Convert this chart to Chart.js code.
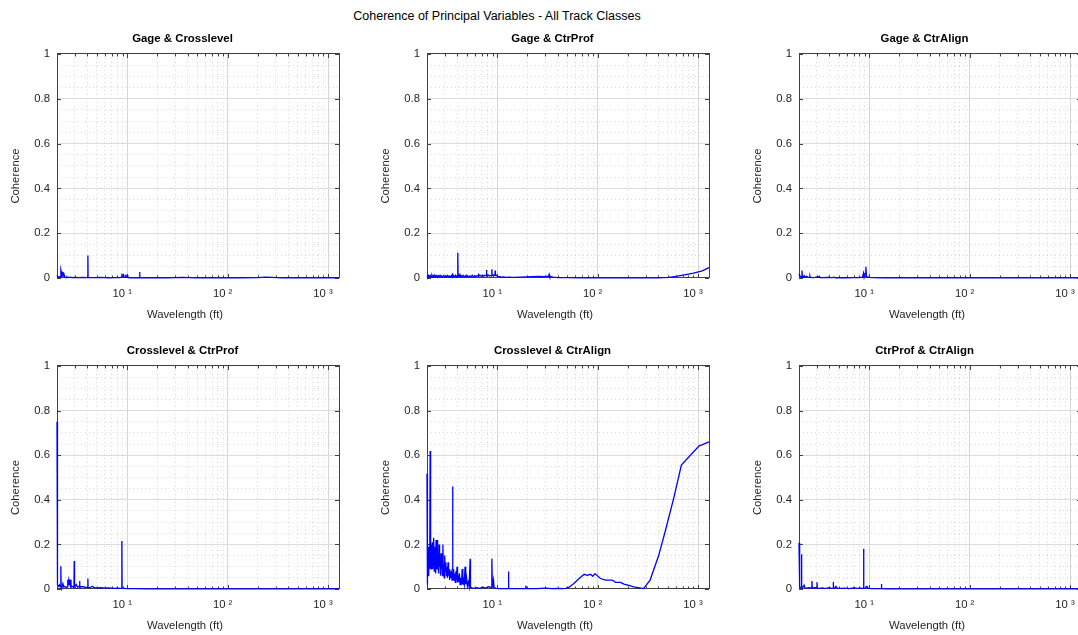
<!DOCTYPE html>
<html>
<head>
<meta charset="utf-8">
<title>Coherence of Principal Variables - All Track Classes</title>
<script src="https://cdn.jsdelivr.net/npm/chart.js@4.4.1/dist/chart.umd.min.js"></script>
<style>
  html,body{margin:0;padding:0;background:#fff;}
  body{width:1078px;height:635px;overflow:hidden;position:relative;font-family:"Liberation Sans",Arial,sans-serif;}
  #suptitle{position:absolute;left:0;top:8px;width:994px;text-align:center;font-size:12.5px;line-height:16px;color:#000;}
  canvas{position:absolute;}
</style>
</head>
<body>
<div id="suptitle">Coherence of Principal Variables - All Track Classes</div>
<canvas id="p1" width="365" height="302" style="left:0px;top:24px"></canvas>
<canvas id="p2" width="365" height="302" style="left:370px;top:24px"></canvas>
<canvas id="p3" width="365" height="302" style="left:742px;top:24px"></canvas>
<canvas id="p4" width="365" height="301" style="left:0px;top:336px"></canvas>
<canvas id="p5" width="365" height="301" style="left:370px;top:336px"></canvas>
<canvas id="p6" width="365" height="301" style="left:742px;top:336px"></canvas>
<script>
/* ── axes ── */
const X_MIN=2, X_MAX=1285;
const X_MAJOR=[10,100,1000];
const X_LABELS=['10 \u00b9','10 \u00b2','10 \u00b3'];
const X_MINOR=[3,4,5,6,7,8,9,20,30,40,50,60,70,80,90,200,300,400,500,600,700,800,900];
const Y_MAJOR=[0,0.2,0.4,0.6,0.8,1];
const Y_MINOR=[0.05,0.1,0.15,0.25,0.3,0.35,0.45,0.5,0.55,0.65,0.7,0.75,0.85,0.9,0.95];
const X_TITLE='Wavelength (ft)';
const Y_TITLE='Coherence';
const PANEL_TITLES=['Gage & Crosslevel','Gage & CtrProf','Gage & CtrAlign',
  'Crosslevel & CtrProf','Crosslevel & CtrAlign','CtrProf & CtrAlign'];

/* ── Gage & Crosslevel ── */
const wlGageXl=[2.0,2.05,2.1,2.15,2.18,2.19,2.2,2.24,2.27,2.3,
  2.32,2.34,2.4,2.46,2.51,2.55,2.62,2.71,2.8,3.0,
  3.3,3.6,3.9,4.04,4.06,4.08,4.3,4.8,5.5,6.5,
  7.5,8.4,8.8,8.85,8.9,9.1,9.19,9.3,9.6,9.7,
  9.8,10.0,10.08,10.2,11,12.5,13.2,13.3,13.4,15,
  18,25,35,50,80,130,200,240,280,350,
  500,800,1285];
const cohGageXl=[0.012,0.004,0.006,0.003,0.005,0.036,0.030,0.004,0.025,0.024,
  0.006,0.022,0.003,0.002,0.005,0.002,0.003,0.004,0.002,0.003,
  0.002,0.003,0.002,0.003,0.100,0.003,0.002,0.002,0.003,0.001,
  0.002,0.002,0.004,0.020,0.004,0.006,0.018,0.004,0.005,0.015,
  0.004,0.004,0.014,0.002,0.001,0.001,0.002,0.027,0.002,0.001,
  0.002,0.001,0.003,0.001,0.001,0.001,0.002,0.004,0.003,0.001,
  0.001,0.001,0.001];

/* ── Gage & CtrProf ── */
const wlGageProf=[2.0,2.04,2.08,2.12,2.16,2.2,2.24,2.28,2.32,2.36,
  2.4,2.45,2.5,2.55,2.6,2.65,2.7,2.76,2.82,2.88,
  2.94,3.0,3.07,3.14,3.21,3.28,3.35,3.43,3.51,3.57,
  3.59,3.61,3.68,3.76,3.84,3.92,4.0,4.04,4.06,4.08,
  4.14,4.22,4.25,4.28,4.38,4.48,4.58,4.7,4.86,4.88,
  4.9,5.05,5.2,5.35,5.5,5.65,5.8,5.95,6.1,6.3,
  6.5,6.52,6.55,6.75,6.95,7.15,7.35,7.55,7.8,7.83,
  7.86,8.1,8.35,8.8,8.85,8.9,9.1,9.5,9.55,9.6,
  9.8,10.1,10.5,11,11.6,12.2,13,14.5,17,20,
  23,26,29,32.5,32.9,33.3,36,40,50,70,
  100,150,250,400,514,600,753,900,1100,1285];
const cohGageProf=[0.010,0.004,0.012,0.006,0.011,0.003,0.013,0.005,0.010,0.004,
  0.012,0.006,0.011,0.003,0.010,0.005,0.012,0.004,0.009,0.006,
  0.011,0.004,0.010,0.006,0.012,0.005,0.009,0.004,0.011,0.006,
  0.021,0.005,0.010,0.006,0.012,0.004,0.011,0.008,0.113,0.006,
  0.012,0.007,0.020,0.006,0.010,0.005,0.012,0.006,0.008,0.015,
  0.006,0.011,0.005,0.010,0.006,0.012,0.005,0.010,0.006,0.011,
  0.007,0.020,0.008,0.012,0.007,0.013,0.008,0.012,0.010,0.036,
  0.010,0.014,0.009,0.012,0.039,0.010,0.014,0.012,0.033,0.011,
  0.012,0.007,0.006,0.004,0.005,0.003,0.004,0.003,0.004,0.005,
  0.006,0.007,0.006,0.008,0.016,0.007,0.004,0.002,0.002,0.001,
  0.001,0.001,0.001,0.001,0.003,0.007,0.015,0.022,0.032,0.046];

/* ── Gage & CtrAlign ── */
const wlGageAlign=[2.0,2.06,2.12,2.14,2.16,2.2,2.25,2.3,2.38,2.45,
  2.55,2.57,2.6,2.75,2.9,2.99,3.05,3.18,3.25,3.5,
  3.8,3.98,4.0,4.02,4.3,4.49,4.6,5.2,6,7,
  8,8.58,8.78,8.9,9.1,9.27,9.4,9.6,10,11,
  14,20,40,80,150,300,600,1285];
const cohGageAlign=[0.018,0.006,0.004,0.033,0.006,0.004,0.010,0.003,0.008,0.004,
  0.003,0.010,0.003,0.002,0.003,0.005,0.002,0.008,0.002,0.002,
  0.003,0.002,0.010,0.002,0.002,0.004,0.001,0.002,0.001,0.002,
  0.002,0.004,0.022,0.004,0.020,0.050,0.006,0.005,0.003,0.002,
  0.001,0.001,0.001,0.001,0.001,0.001,0.001,0.001];

/* ── Crosslevel & CtrProf ── */
const wlXlProf=[2.0,2.005,2.04,2.08,2.12,2.16,2.18,2.19,2.2,2.24,
  2.29,2.34,2.4,2.47,2.53,2.55,2.57,2.62,2.65,2.68,
  2.73,2.75,2.77,2.85,2.95,2.97,2.99,3.05,3.11,3.2,
  3.3,3.34,3.36,3.38,3.5,3.68,3.85,4.04,4.06,4.08,
  4.3,4.49,4.7,5.0,5.5,6.0,6.6,7.3,8.0,8.6,
  8.8,8.85,8.9,9.2,10,12,16,25,50,100,
  200,400,800,1285];
const cohXlProf=[0.75,0.15,0.020,0.012,0.018,0.008,0.012,0.102,0.010,0.006,
  0.024,0.008,0.012,0.006,0.010,0.042,0.012,0.040,0.020,0.042,
  0.010,0.042,0.008,0.012,0.006,0.126,0.010,0.015,0.020,0.008,
  0.012,0.010,0.036,0.008,0.010,0.010,0.007,0.008,0.047,0.007,
  0.006,0.012,0.006,0.005,0.006,0.004,0.005,0.003,0.004,0.003,
  0.003,0.215,0.003,0.003,0.002,0.002,0.001,0.001,0.001,0.001,
  0.001,0.001,0.001,0.001];

/* ── Crosslevel & CtrAlign ── */
const wlXlAlign=[2.00,2.01,2.03,2.05,2.07,2.09,2.11,2.13,2.15,2.165,
  2.18,2.20,2.22,2.24,2.26,2.28,2.30,2.32,2.34,2.36,
  2.38,2.40,2.42,2.44,2.46,2.48,2.50,2.52,2.54,2.56,
  2.58,2.61,2.64,2.67,2.70,2.73,2.76,2.79,2.82,2.85,
  2.88,2.91,2.94,2.97,3.00,3.04,3.08,3.12,3.16,3.20,
  3.24,3.28,3.32,3.36,3.40,3.45,3.50,3.55,3.59,3.61,
  3.63,3.68,3.73,3.78,3.83,3.88,3.93,3.98,4.03,4.08,
  4.13,4.20,4.27,4.34,4.41,4.48,4.55,4.62,4.70,4.78,
  4.86,4.95,5.05,5.15,5.25,5.35,5.38,5.42,5.6,5.9,
  6.3,6.7,7.2,7.7,8.2,8.8,8.85,8.95,9.19,9.3,
  9.8,10.5,12,12.9,12.95,13.05,16,19.1,19.3,19.5,
  25,30,35,40,45,48,52,58,65,73.5,
  78.7,85,89.7,94,106.7,120,140,151,169,183,
  205,229,286,333,405,472,574,682,1020,1285];
const cohXlAlign=[0.517,0.02,0.12,0.06,0.19,0.08,0.15,0.09,0.619,0.10,
  0.17,0.09,0.20,0.11,0.21,0.09,0.17,0.12,0.23,0.08,
  0.19,0.10,0.16,0.07,0.22,0.12,0.18,0.09,0.22,0.11,
  0.15,0.07,0.20,0.10,0.14,0.06,0.16,0.09,0.13,0.06,
  0.20,0.07,0.11,0.05,0.15,0.08,0.12,0.06,0.10,0.05,
  0.12,0.06,0.09,0.04,0.08,0.05,0.07,0.04,0.06,0.46,
  0.05,0.09,0.04,0.07,0.03,0.08,0.04,0.10,0.03,0.06,
  0.03,0.07,0.02,0.05,0.02,0.09,0.02,0.04,0.02,0.10,
  0.02,0.05,0.015,0.03,0.01,0.01,0.136,0.008,0.005,0.003,
  0.006,0.003,0.008,0.004,0.010,0.006,0.136,0.008,0.040,0.006,
  0.003,0.002,0.002,0.002,0.079,0.002,0.002,0.002,0.015,0.002,
  0.002,0.004,0.002,0.003,0.002,0.003,0.008,0.025,0.046,0.066,
  0.061,0.066,0.057,0.069,0.047,0.040,0.040,0.030,0.030,0.022,
  0.016,0.010,0.002,0.040,0.150,0.260,0.410,0.556,0.641,0.660];

/* ── CtrProf & CtrAlign ── */
const wlProfAlign=[2.0,2.03,2.07,2.11,2.12,2.13,2.17,2.25,2.3,2.4,
  2.5,2.67,2.69,2.71,2.85,3.0,3.02,3.04,3.2,3.4,
  3.6,3.8,4.0,4.2,4.37,4.39,4.41,4.55,4.66,4.8,
  5.2,5.7,6.3,7.0,7.6,8.2,8.7,8.78,8.86,9.2,
  9.49,9.8,10.5,12,13.2,13.25,13.3,15,20,30,
  50,100,200,500,1285];
const cohProfAlign=[0.206,0.010,0.006,0.008,0.156,0.010,0.006,0.017,0.005,0.004,
  0.006,0.004,0.036,0.004,0.006,0.005,0.030,0.004,0.003,0.005,
  0.003,0.004,0.006,0.003,0.004,0.031,0.006,0.005,0.012,0.004,
  0.003,0.004,0.002,0.005,0.003,0.004,0.003,0.181,0.003,0.004,
  0.012,0.003,0.002,0.002,0.003,0.022,0.002,0.001,0.001,0.001,
  0.001,0.001,0.001,0.001,0.001];

Chart.defaults.font.family='"Liberation Sans", Arial, Helvetica, sans-serif';
Chart.defaults.color='#262626';

/* inward tick marks on all four sides of the box (matlab style) */
const boxTicks={
  id:'boxTicks',
  beforeDatasetsDraw(chart){
    const{ctx,chartArea:a,scales}=chart;
    const xs=scales.x, ys=scales.y;
    ctx.save();
    ctx.strokeStyle='#404040';ctx.lineWidth=1;
    ctx.beginPath();
    const vt=(v,len)=>{
      const p=Math.round(xs.getPixelForValue(v))+0.5;
      ctx.moveTo(p,a.top);ctx.lineTo(p,a.top+len);
      ctx.moveTo(p,a.bottom);ctx.lineTo(p,a.bottom-len);
    };
    X_MAJOR.forEach(v=>vt(v,4));
    X_MINOR.forEach(v=>vt(v,2.5));
    Y_MAJOR.forEach(v=>{
      const p=Math.round(ys.getPixelForValue(v))+0.5;
      ctx.moveTo(a.left,p);ctx.lineTo(a.left+4,p);
      ctx.moveTo(a.right,p);ctx.lineTo(a.right-4,p);
    });
    ctx.stroke();
    ctx.restore();
  }
};

/* axis labels sit a bit off-centre in the original figure */
const axisTitles={
  id:'axisTitles',
  afterDraw(chart){
    const{ctx,chartArea:a}=chart;
    ctx.save();
    ctx.font='11.3px "Liberation Sans", Arial, sans-serif';
    ctx.fillStyle='#262626';
    ctx.textAlign='center';
    ctx.textBaseline='middle';
    ctx.fillText(X_TITLE,(a.left+a.right)/2-13,a.bottom+36.5);
    ctx.translate(a.left-41,(a.top+a.bottom)/2+10);
    ctx.rotate(-Math.PI/2);
    ctx.fillText(Y_TITLE,0,0);
    ctx.restore();
  }
};

function drawPanel(id,title,wl,coh){
  const pts=wl.map((x,i)=>({x,y:coh[i]}));
  return new Chart(document.getElementById(id),{
    type:'line',
    data:{datasets:[{data:pts,borderColor:'#0000ff',borderWidth:1.3,pointRadius:0,fill:false,tension:0,clip:2}]},
    plugins:[boxTicks,axisTitles],
    options:{
      responsive:false,animation:false,events:[],
      layout:{padding:0},
      plugins:{
        legend:{display:false},tooltip:{enabled:false},
        title:{display:true,text:title,color:'#000',font:{size:11.4,weight:'bold'},padding:{top:8,bottom:8.3}}
      },
      scales:{
        x:{type:'logarithmic',position:'bottom',min:X_MIN,max:X_MAX,
          afterBuildTicks:s=>{s.ticks=X_MAJOR.map(v=>({value:v}));},
          afterFit:s=>{s.height=48;},
          ticks:{autoSkip:false,maxRotation:0,padding:9,labelOffset:-5,font:{size:11.3},
            callback:v=>X_LABELS[X_MAJOR.indexOf(v)]},
          grid:{color:'#d6d6d6',drawTicks:false},
          border:{color:'#404040'}},
        xm:{type:'logarithmic',position:'top',min:X_MIN,max:X_MAX,
          afterBuildTicks:s=>{s.ticks=X_MINOR.map(v=>({value:v}));},
          afterFit:s=>{s.height=0;},
          ticks:{display:false},
          grid:{color:'#dadada',drawTicks:false},
          border:{color:'#404040',dash:[1,3]}},
        y:{type:'linear',position:'left',min:0,max:1,
          afterBuildTicks:s=>{s.ticks=Y_MAJOR.map(v=>({value:v}));},
          afterFit:s=>{s.width=57;},
          ticks:{autoSkip:false,padding:7,font:{size:11.3},callback:v=>String(v)},
          grid:{color:'#dcdcdc',drawTicks:false},
          border:{color:'#404040'}},
        ym:{type:'linear',position:'right',min:0,max:1,
          afterBuildTicks:s=>{s.ticks=Y_MINOR.map(v=>({value:v}));},
          afterFit:s=>{s.width=26;},
          ticks:{display:false},
          grid:{color:'#dadada',drawTicks:false},
          border:{color:'#404040',dash:[1,3]}}
      }
    }
  });
}

drawPanel('p1',PANEL_TITLES[0],wlGageXl,cohGageXl);
drawPanel('p2',PANEL_TITLES[1],wlGageProf,cohGageProf);
drawPanel('p3',PANEL_TITLES[2],wlGageAlign,cohGageAlign);
drawPanel('p4',PANEL_TITLES[3],wlXlProf,cohXlProf);
drawPanel('p5',PANEL_TITLES[4],wlXlAlign,cohXlAlign);
drawPanel('p6',PANEL_TITLES[5],wlProfAlign,cohProfAlign);
</script>
</body>
</html>
